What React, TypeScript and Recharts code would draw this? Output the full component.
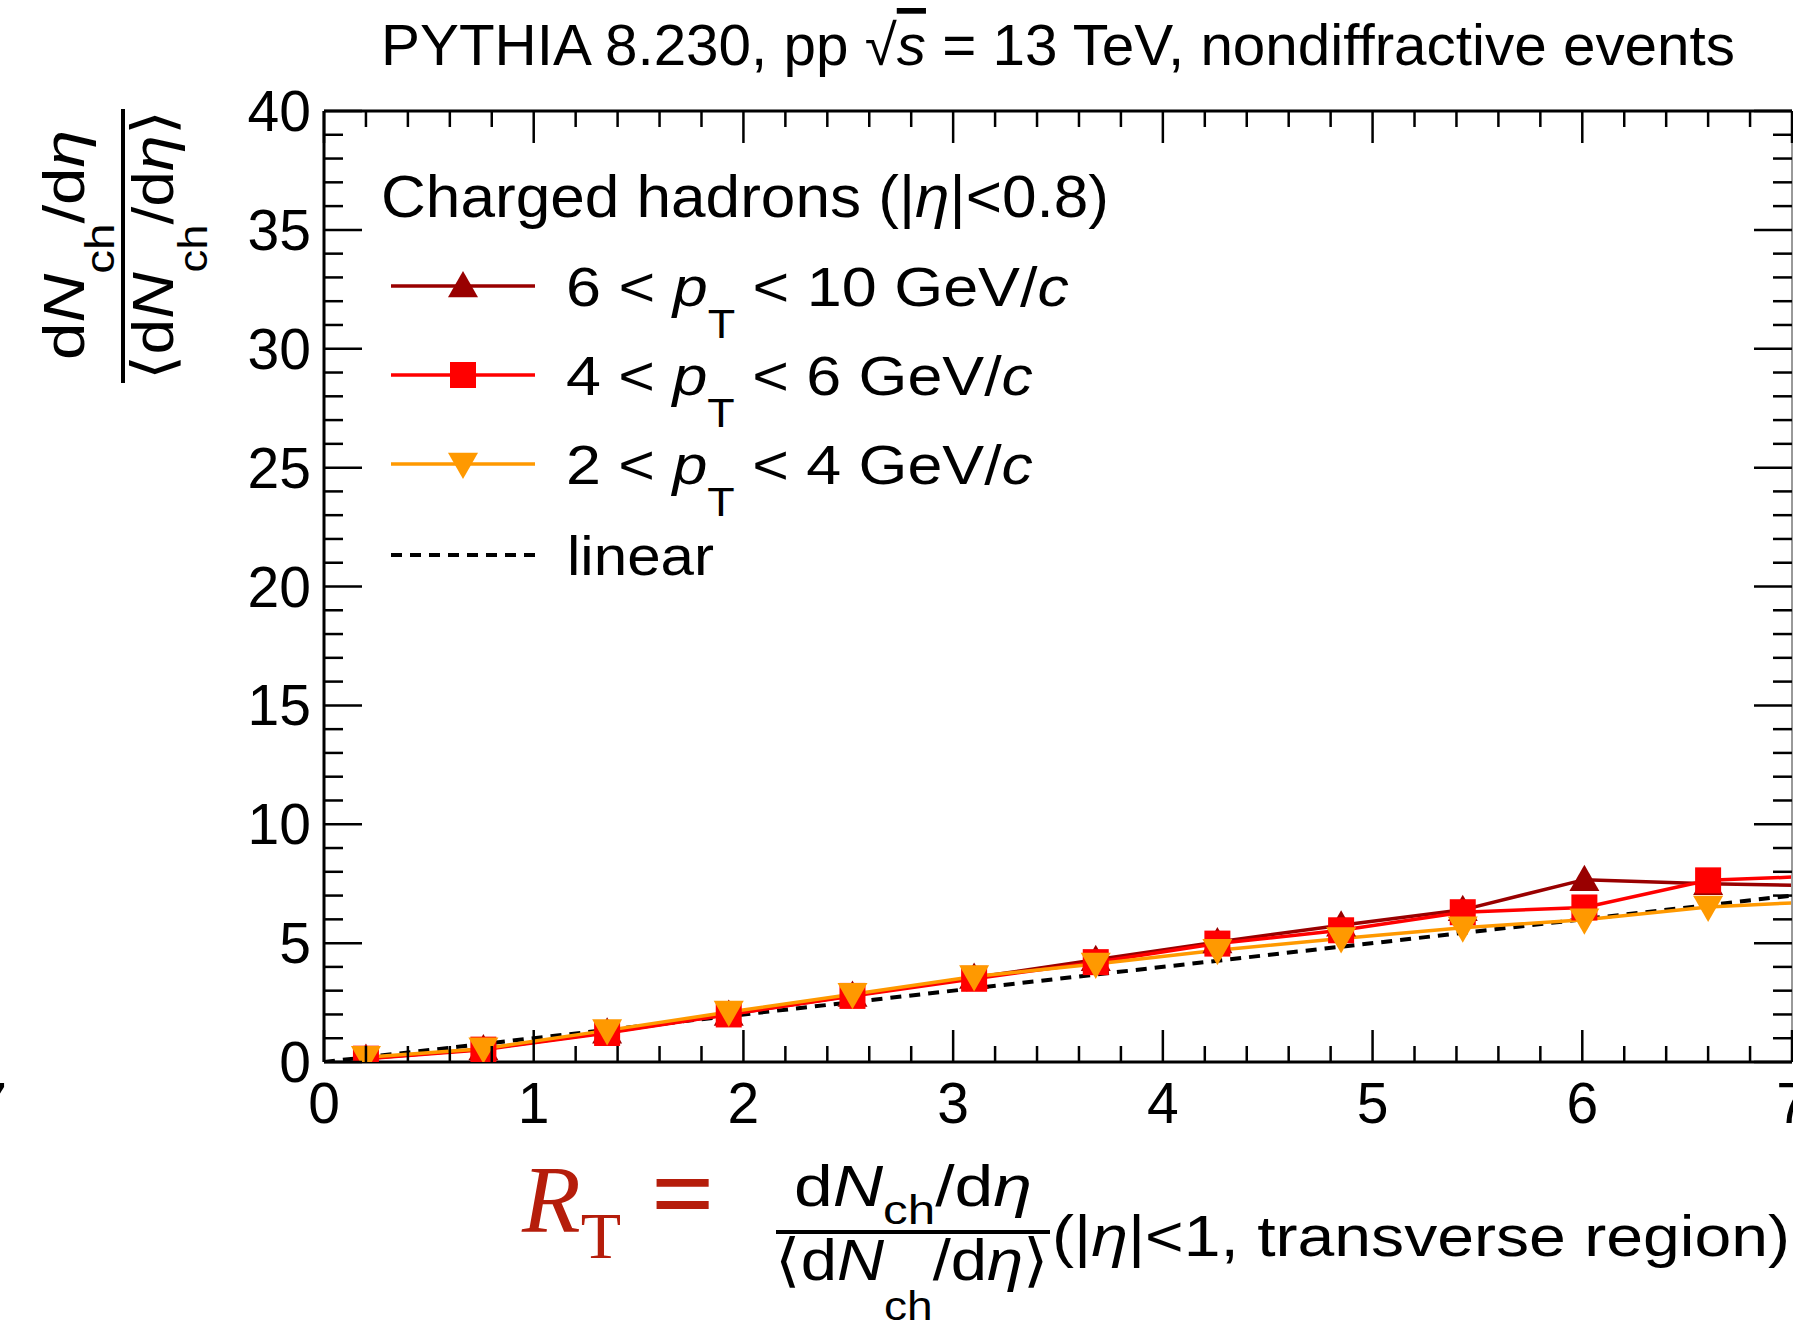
import React from "react";
import { LineChart, Line, XAxis, YAxis, Legend } from "recharts";

const W = 1793;
const H = 1326;
const FONT = "'Liberation Sans', Arial, Helvetica, sans-serif";
const SERIF = "'Liberation Serif', 'Times New Roman', serif";

// R_T bin centres and dN/deta ratio per pT interval
const RT_BINS = [0.2, 0.76, 1.35, 1.93, 2.52, 3.1, 3.68, 4.26, 4.85, 5.43, 6.01, 6.6, 7.18];
const PT_6_10 = [0.15, 0.55, 1.25, 2.0, 2.8, 3.55, 4.3, 5.05, 5.75, 6.4, 7.67, 7.5, 7.4];
const PT_4_6 = [0.14, 0.52, 1.22, 2.0, 2.78, 3.5, 4.2, 4.98, 5.54, 6.3, 6.5, 7.64, 7.84];
const PT_2_4 = [0.2, 0.56, 1.33, 2.1, 2.85, 3.6, 4.12, 4.7, 5.19, 5.65, 5.98, 6.52, 6.77];
const LINEAR_X = [0, 7.5];
const LINEAR_Y = [0, 7.5];

const X_LABELS = [0, 1, 2, 3, 4, 5, 6, 7];
const Y_LABELS = [0, 5, 10, 15, 20, 25, 30, 35, 40];
const X_TICKS = Array.from({ length: 36 }, (_, i) => Math.round(i * 2) / 10);
const Y_TICKS = Array.from({ length: 41 }, (_, i) => i);

const DARK_RED = "#990000";
const RED = "#ff0000";
const ORANGE = "#ff9900";
const RT_RED = "#b51d0b";

const toPoints = (xs: number[], ys: number[]) => xs.map((x, i) => ({ x, y: ys[i] }));

const AXIS = { stroke: "#000", strokeWidth: 3 };
const TICK_W = 2.5;

const isLabel = (v: number, list: number[]) => list.some((l) => Math.abs(l - v) < 1e-6);

function BottomTick(p: any) {
  const v = p.payload.value;
  const major = isLabel(v, X_LABELS);
  return (
    <g>
      <line x1={p.x} x2={p.x} y1={p.y} y2={p.y - (major ? 32 : 16)} stroke="#000" strokeWidth={TICK_W} />
      {major && (
        <text x={p.x} y={p.y + 61} textAnchor="middle" fontFamily={FONT} fontSize={57} fill="#000">
          {v}
        </text>
      )}
    </g>
  );
}

function TopTick(p: any) {
  const major = isLabel(p.payload.value, X_LABELS);
  return <line x1={p.x} x2={p.x} y1={p.y} y2={p.y + (major ? 32 : 16)} stroke="#000" strokeWidth={TICK_W} />;
}

function LeftTick(p: any) {
  const v = p.payload.value;
  const major = isLabel(v, Y_LABELS);
  return (
    <g>
      <line x1={p.x} x2={p.x + (major ? 38 : 19)} y1={p.y} y2={p.y} stroke="#000" strokeWidth={TICK_W} />
      {major && (
        <text x={p.x - 13} y={p.y + 20} textAnchor="end" fontFamily={FONT} fontSize={57} fill="#000">
          {v}
        </text>
      )}
    </g>
  );
}

function RightTick(p: any) {
  const major = isLabel(p.payload.value, Y_LABELS);
  return <line x1={p.x} x2={p.x - (major ? 38 : 19)} y1={p.y} y2={p.y} stroke="#000" strokeWidth={TICK_W} />;
}

// marker shapes
const triUp = (cx: number, cy: number, s = 15) =>
  `M${cx},${cy - s} L${cx + s},${cy + s * 0.75} L${cx - s},${cy + s * 0.75} Z`;
const triDown = (cx: number, cy: number, s = 15) =>
  `M${cx},${cy + s} L${cx + s},${cy - s * 0.75} L${cx - s},${cy - s * 0.75} Z`;

function Marker({ kind, cx, cy, color }: { kind: string; cx: number; cy: number; color: string }) {
  if (kind === "square") return <rect x={cx - 13} y={cy - 13} width={26} height={26} fill={color} />;
  return <path d={kind === "up" ? triUp(cx, cy) : triDown(cx, cy)} fill={color} />;
}

const SERIES = [
  { name: "6-10", values: PT_6_10, color: DARK_RED, marker: "up" },
  { name: "4-6", values: PT_4_6, color: RED, marker: "square" },
  { name: "2-4", values: PT_2_4, color: ORANGE, marker: "down" },
];

// d N_ch / d eta, optionally wrapped in angle brackets
function DNdEta({ x, y, size, len, brackets, subDy = 30 }: any) {
  const sub = Math.round(size * 0.7);
  return (
    <text x={x} y={y} textAnchor="middle" fontFamily={FONT} fontSize={size} fill="#000"
      textLength={len} lengthAdjust="spacingAndGlyphs">
      {brackets ? "⟨d" : "d"}
      <tspan fontStyle="italic">N</tspan>
      <tspan fontSize={sub} dy={subDy}>ch</tspan>
      <tspan dy={-subDy}>/d</tspan>
      <tspan fontStyle="italic">η</tspan>
      {brackets ? "⟩" : null}
    </text>
  );
}

const LEGEND_ROWS = [
  { lo: "6", hi: "10", len: 503, s: SERIES[0] },
  { lo: "4", hi: "6", len: 467, s: SERIES[1] },
  { lo: "2", hi: "4", len: 467, s: SERIES[2] },
];

function LegendBox() {
  return (
    <svg width={800} height={460} style={{ display: "block" }}>
      <text x={11} y={67} fontFamily={FONT} fontSize={59} fill="#000" textLength={728} lengthAdjust="spacingAndGlyphs">
        Charged hadrons (|<tspan fontStyle="italic">η</tspan>|&lt;0.8)
      </text>
      {LEGEND_ROWS.map((r, i) => {
        const ly = 136 + i * 89;
        return (
          <g key={r.lo}>
            <line x1={21} x2={165} y1={ly} y2={ly} stroke={r.s.color} strokeWidth={3.5} />
            <Marker kind={r.s.marker} cx={93} cy={ly} color={r.s.color} />
            <text x={196} y={ly + 20} fontFamily={FONT} fontSize={56} fill="#000"
              textLength={r.len} lengthAdjust="spacingAndGlyphs">
              {r.lo} &lt; <tspan fontStyle="italic">p</tspan>
              <tspan fontSize={40} dy={32}>T</tspan>
              <tspan dy={-32}> &lt; {r.hi} GeV/</tspan>
              <tspan fontStyle="italic">c</tspan>
            </text>
          </g>
        );
      })}
      <line x1={21} x2={165} y1={405} y2={405} stroke="#000" strokeWidth={4} strokeDasharray="11 8" />
      <text x={197} y={425} fontFamily={FONT} fontSize={56} fill="#000" textLength={147} lengthAdjust="spacingAndGlyphs">
        linear
      </text>
    </svg>
  );
}

export default function App() {
  return (
    <div style={{ position: "absolute", left: 0, top: 0, width: W, height: H, overflow: "hidden", background: "#fff" }}>
      <LineChart width={W} height={H} margin={{ top: 110, right: 0, bottom: 263, left: 323 }}>
        <XAxis xAxisId="b" type="number" dataKey="x" orientation="bottom" domain={[0, 7]} allowDataOverflow
          ticks={X_TICKS} interval={0} height={1} tickSize={0} tickMargin={0} axisLine={AXIS} tickLine={false}
          tick={(p: any) => <BottomTick {...p} />} />
        <XAxis xAxisId="t" type="number" dataKey="x" orientation="top" domain={[0, 7]} allowDataOverflow
          ticks={X_TICKS} interval={0} height={1} tickSize={0} tickMargin={0} axisLine={AXIS} tickLine={false}
          tick={(p: any) => <TopTick {...p} />} />
        <YAxis yAxisId="l" type="number" orientation="left" domain={[0, 40]} allowDataOverflow
          ticks={Y_TICKS} interval={0} width={1} tickSize={0} tickMargin={0} axisLine={AXIS} tickLine={false}
          tick={(p: any) => <LeftTick {...p} />} />
        <YAxis yAxisId="r" type="number" orientation="right" domain={[0, 40]} allowDataOverflow
          ticks={Y_TICKS} interval={0} width={1} tickSize={0} tickMargin={0}
          axisLine={{ stroke: "#999", strokeWidth: 2 }} tickLine={false}
          tick={(p: any) => <RightTick {...p} />} />

        <Line xAxisId="b" yAxisId="l" data={toPoints(LINEAR_X, LINEAR_Y)} dataKey="y" type="linear"
          stroke="#000" strokeWidth={4} strokeDasharray="11 8" dot={false} isAnimationActive={false} />
        {SERIES.map((s) => (
          <Line key={s.name} xAxisId="b" yAxisId="l" data={toPoints(RT_BINS, s.values)} dataKey="y"
            type="linear" stroke={s.color} strokeWidth={3.5} isAnimationActive={false}
            dot={(p: any) => <Marker key={p.index} kind={s.marker} cx={p.cx} cy={p.cy} color={s.color} />} />
        ))}

        <Legend layout="vertical" align="center" verticalAlign="middle" content={() => <LegendBox />}
          wrapperStyle={{ left: 370, top: 150, width: 800, height: 460 }} />

        {/* title */}
        <text x={381} y={65} fontFamily={FONT} fontSize={57} fill="#000" textLength={1354} lengthAdjust="spacingAndGlyphs">
          PYTHIA 8.230, pp √<tspan fontStyle="italic" textDecoration="overline">s</tspan> = 13 TeV, nondiffractive events
        </text>

        {/* y title: dN/deta over its mean */}
        <g transform="translate(84,245) rotate(-90)">
          <DNdEta x={0} y={0} size={58} len={230} />
        </g>
        <line x1={123} x2={123} y1={109} y2={383} stroke="#000" strokeWidth={4} />
        <g transform="translate(173,245) rotate(-90)">
          <DNdEta x={0} y={0} size={58} len={270} brackets subDy={34} />
        </g>

        {/* x title */}
        <text x={522} y={1232} fontFamily={SERIF} fill={RT_RED}>
          <tspan fontStyle="italic" fontSize={96}>R</tspan>
          <tspan fontSize={66} dy={26}>T</tspan>
        </text>
        <text x={651} y={1231} fontFamily={SERIF} fontSize={112} fontWeight="bold" fill={RT_RED}>=</text>
        <DNdEta x={913} y={1206} size={58} len={238} subDy={18} />
        <line x1={776} x2={1050} y1={1232} y2={1232} stroke="#000" strokeWidth={4} />
        <DNdEta x={912} y={1280} size={58} len={274} brackets subDy={40} />
        <text x={1052} y={1256} fontFamily={FONT} fontSize={58} fill="#000" textLength={738} lengthAdjust="spacingAndGlyphs">
          (|<tspan fontStyle="italic">η</tspan>|&lt;1, transverse region)
        </text>

        {/* neighbouring panel's tick label, cut at the edge */}
        <text x={7} y={1123} textAnchor="end" fontFamily={FONT} fontSize={57} fill="#000">7</text>
      </LineChart>
    </div>
  );
}
